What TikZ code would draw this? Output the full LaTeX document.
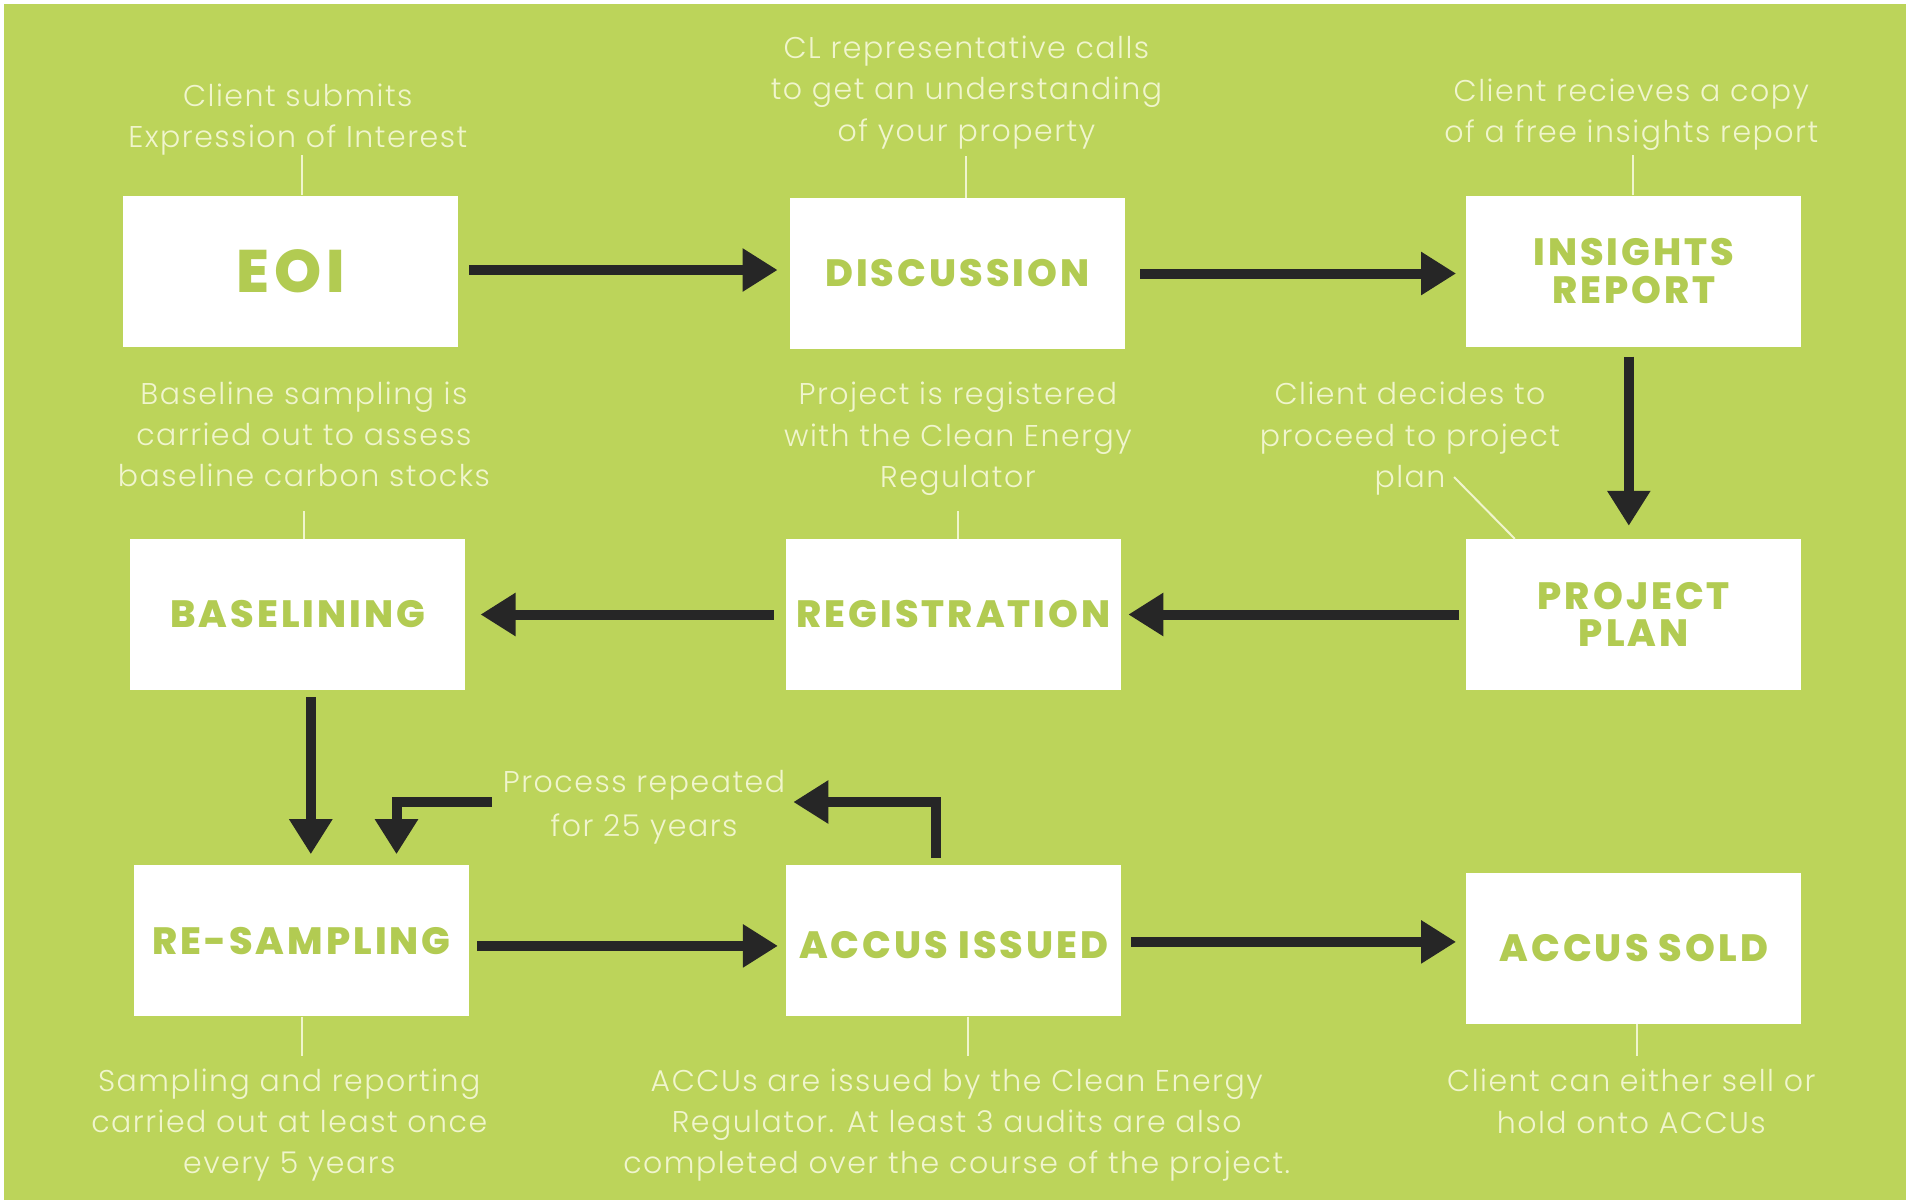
\documentclass[tikz,border=0pt]{standalone}
\usepackage{fontspec}
\setmainfont{Poppins}
\newfontfamily\notefont{Poppins Light}[LetterSpace=5]
\newfontfamily\labelfont{Poppins}[BoldFont={Poppins ExtraBold}, LetterSpace=8]
\usetikzlibrary{arrows.meta,calc}
\definecolor{bg}{HTML}{BCD45A}
\definecolor{labelgreen}{HTML}{B2CB52}
\definecolor{notecol}{HTML}{F0F5CD}
\definecolor{arrowcol}{HTML}{262626}
\tikzset{
  box/.style={fill=white, minimum width=335pt, minimum height=151pt, inner sep=0pt,
    text=labelgreen, align=center, font=\labelfont\bfseries\fontsize{38}{37.3}\selectfont},
  note/.style={text=notecol, align=center, inner sep=0pt,
    font=\notefont\fontsize{30}{41.3}\selectfont},
  flow/.style={draw=arrowcol, line width=10pt, line join=miter,
    -{Triangle[length=35pt,width=41pt]}},
  tick/.style={draw=notecol, line width=2pt},
}
\begin{document}
\begin{tikzpicture}[x=1pt,y=-1pt]
\useasboundingbox (0,0) rectangle (1906,1200);
\fill[white] (0,0) rectangle (1906,1200);
\fill[bg] (4,4) rectangle (1906,1200);

% boxes
\node[box, font=\labelfont\bfseries\fontsize{60}{60}\selectfont] (eoi) at (290.5,271) {EOI};
\node[box] (disc) at (957.3,273.5) {DISCUSSION};
\node[box] (ins) at (1633.8,271) {INSIGHTS\\REPORT};
\node[box] (bas) at (297.8,614.5) {BASELINING};
\node[box] (reg) at (953.6,614.5) {REGISTRATION};
\node[box] (pp) at (1633.8,614.5) {PROJECT\\PLAN};
\node[box] (res) at (301.5,940.9) {RE-SAMPLING};
\node[box] (acc) at (953.6,940.9) {\raisebox{-18pt}[0pt][0pt]{ACCUS ISSUED}};
\node[box] (sold) at (1633.8,948.2) {ACCUS SOLD};

% notes
\node[note] (t1) at (297.8,119.6) {Client submits\\Expression of Interest};
\node[note] (t2) at (966.4,92.4) {CL representative calls\\to get an understanding\\of your property};
\node[note] (t3) at (1631.3,114.6) {Client recieves a copy\\of a free insights report};
\node[note] (t4) at (303.9,434.2) {Baseline sampling is\\carried out to assess\\baseline carbon stocks};
\node[note] (t5) at (957.9,438.8) {Project is registered\\with the Clean Energy\\Regulator};
\node[note] (t6) at (1410,438.8) {Client decides to\\proceed to project\\plan};
\node[note, font=\notefont\fontsize{30}{43.8}\selectfont] (rep) at (644,807.6) {Process repeated\\for 25 years};
\node[note] (t8) at (289.3,1124.9) {Sampling and reporting\\carried out at least once\\every 5 years};
\node[note] (t9) at (956.7,1124.9) {ACCUs are issued by the Clean Energy\\Regulator. At least 3 audits are also\\completed over the course of the project.};
\node[note] (t10) at (1631.3,1101.4) {Client can either sell or\\hold onto ACCUs};

% ticks
\draw[tick] ($(eoi.north)+(11,0)$) -- ($(eoi.north)+(11,-40)$);
\draw[tick] ($(disc.north)+(9,0)$) -- ($(disc.north)+(9,-42)$);
\draw[tick] ($(ins.north)+(-1,0)$) -- ($(ins.north)+(-1,-40)$);
\draw[tick] ($(bas.north)+(6,0)$) -- ($(bas.north)+(6,-28)$);
\draw[tick] ($(reg.north)+(4,0)$) -- ($(reg.north)+(4,-28)$);
\coordinate (ppt) at (1454,477);
\draw[tick] ($(pp.north)+(-119,0)$) -- (ppt);
\draw[tick] ($(res.south)+(0,0)$) -- ($(res.south)+(0,39)$);
\draw[tick] ($(acc.south)+(14,0)$) -- ($(acc.south)+(14,39)$);
\draw[tick] ($(sold.south)+(3.6,0)$) -- ($(sold.south)+(3.6,32)$);

% flow arrows
\draw[flow] ($(eoi.east)+(11,-1)$) -- ($(eoi.east -| disc.west)+(-12,-1)$);
\draw[flow] ($(disc.east)+(15,0)$) -- ($(disc.east -| ins.west)+(-10,0)$);
\draw[flow] ($(ins.south)+(-5,10)$) -- ($(ins.south |- pp.north)+(-5,-13)$);
\draw[flow] ($(pp.west)+(-7,0)$) -- ($(reg.east)+(7,0)$);
\draw[flow] ($(reg.west)+(-12,0)$) -- ($(bas.east)+(15,0)$);
\draw[flow] ($(bas.south)+(13,7)$) -- ($(bas.south |- res.north)+(13,-11)$);
\draw[flow] ($(res.east)+(8,5)$) -- ($(res.east -| acc.west)+(-8,5)$);
\draw[flow] ($(acc.east)+(10,1)$) -- ($(acc.east -| sold.west)+(-10,1)$);

% repeat loop
\draw[flow] ($(acc.north)+(-17.6,-7)$) |- ($(rep.east)+(8,-5.6)$);
\draw[flow] ($(rep.west)+(-11,-5.6)$) -| ($(res.north)+(95,-11)$);
\end{tikzpicture}
\end{document}
